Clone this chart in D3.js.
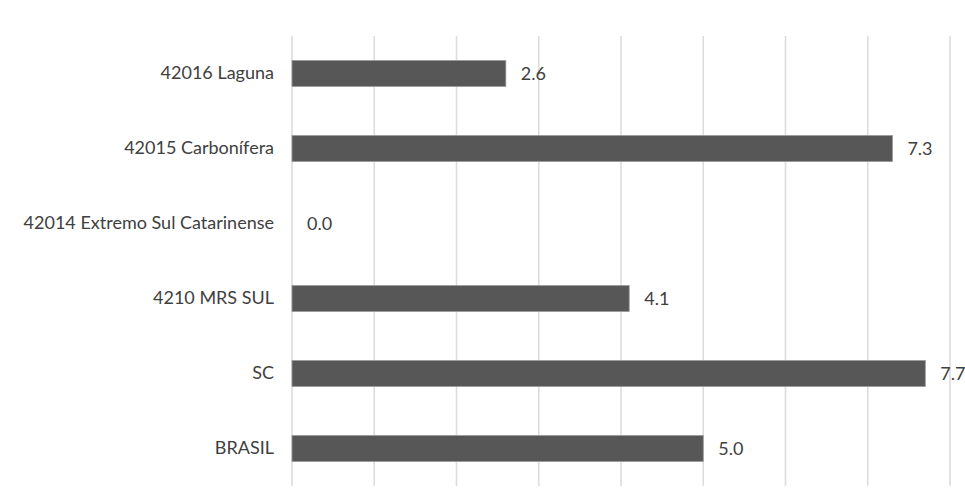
<!DOCTYPE html>
<html>
<head>
<meta charset="utf-8">
<script src="https://cdn.jsdelivr.net/npm/d3@7"></script>
<style>
  html, body { margin: 0; padding: 0; background: #fff; }
  svg { display: block; }
  text { font-family: Lato, "Open Sans", sans-serif; }
</style>
</head>
<body>
<svg id="chart" width="965" height="498"></svg>
<script>
// Regiões e valores do indicador
const categories = [
  "42016 Laguna",
  "42015 Carbonífera",
  "42014 Extremo Sul Catarinense",
  "4210 MRS SUL",
  "SC",
  "BRASIL"
];
const values = [2.6, 7.3, 0.0, 4.1, 7.7, 5.0];
const xTicks = [0, 1, 2, 3, 4, 5, 6, 7, 8];

const svg = d3.select("#chart");
const margin = { top: 36, left: 292 };
const fontSize = 18;

const x = d3.scaleLinear()
  .domain([0, 8])
  .range([margin.left, 950]);

const y = d3.scaleBand()
  .domain(categories)
  .range([margin.top, 486])
  .paddingInner(0.653)
  .paddingOuter(0.3265);

// Linhas de grade verticais
svg.append("g")
  .selectAll("line")
  .data(xTicks)
  .join("line")
  .attr("x1", d => x(d))
  .attr("x2", d => x(d))
  .attr("y1", margin.top)
  .attr("y2", 486)
  .attr("stroke", "#dcdcdc")
  .attr("stroke-width", 1.6);

// Barras
svg.append("g")
  .selectAll("rect")
  .data(values)
  .join("rect")
  .attr("x", x(0))
  .attr("y", (d, i) => y(categories[i]))
  .attr("width", d => x(d) - x(0))
  .attr("height", y.bandwidth())
  .attr("fill", "#575757")
  .attr("stroke", d => d > 0 ? "#9a9a9a" : "none")
  .attr("stroke-width", 0.8);

// Rótulos das categorias
const yAxis = d3.axisLeft(y).tickSize(0).tickPadding(18);
const gy = svg.append("g")
  .attr("transform", `translate(${margin.left},0)`)
  .call(yAxis);
gy.select(".domain").remove();
gy.selectAll("text")
  .attr("font-family", "Lato, 'Open Sans', sans-serif")
  .attr("font-size", fontSize)
  .attr("fill", "#404040");

// Rótulos de valor
svg.append("g")
  .selectAll("text")
  .data(values)
  .join("text")
  .attr("x", d => x(d) + 15)
  .attr("y", (d, i) => y(categories[i]) + y.bandwidth() / 2)
  .attr("dy", "0.35em")
  .attr("font-size", fontSize)
  .attr("fill", "#404040")
  .text(d => d.toFixed(1));
</script>
</body>
</html>
